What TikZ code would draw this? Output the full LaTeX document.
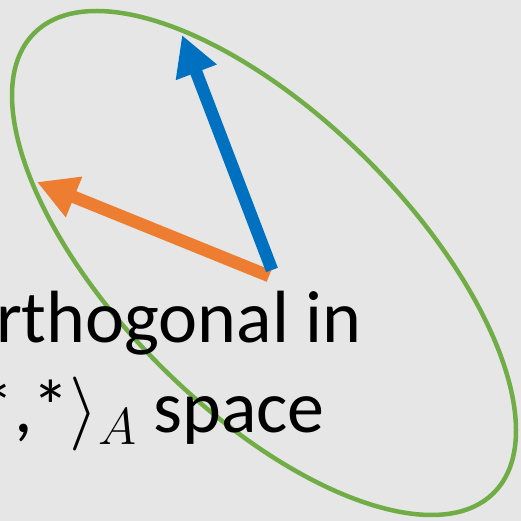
\documentclass[tikz,border=0pt]{standalone}
\usepackage{fix-cm}
\usepackage{fontspec}
\setmainfont{Carlito}
\usetikzlibrary{arrows.meta}
\definecolor{bgc}{HTML}{E7E6E6}
\definecolor{ogreen}{HTML}{70AD47}
\definecolor{oblue}{HTML}{0070C0}
\definecolor{oorange}{HTML}{ED7D31}
\tikzset{
  vecarrow/.style={line width=12.5pt,line cap=butt,-{Triangle[length=40pt,width=41pt]}},
  bigtext/.style={inner sep=0pt,font=\fontsize{74}{88}\selectfont,anchor=base east}
}
\begin{document}
\begin{tikzpicture}[x=1pt,y=1pt]
\useasboundingbox (0,0) rectangle (521,521);
\clip (0,0) rectangle (521,521);
\fill[bgc] (0,0) rectangle (521,521);
\draw[ogreen,line width=4.5pt,rotate around={-45:(264,258)}] (264,258) ellipse [x radius=325,y radius=146];
\coordinate (ot) at (269,245);
\coordinate (oh) at (37,339);
\coordinate (bt) at (272,251);
\coordinate (bh) at (182,486);
\draw[vecarrow,oorange] (ot) -- (oh);
\draw[vecarrow,oblue] (bt) -- (bh);
\node[bigtext] (l1) at (362,178) {orthogonal in};
\node[bigtext] (l2) at (325,88) {$\langle\mbox{*,*}\rangle_{A}$ space};
\end{tikzpicture}
\end{document}
